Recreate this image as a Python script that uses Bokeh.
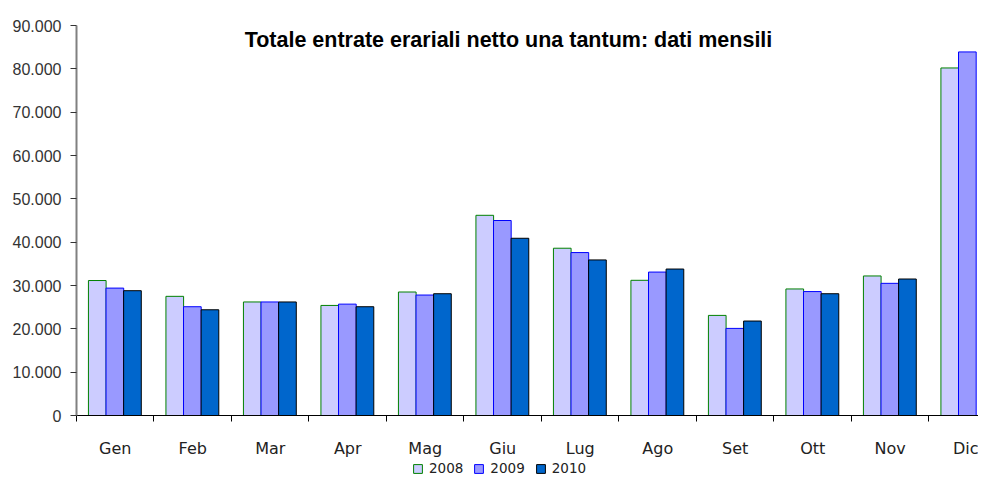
import numpy as np
from bokeh.plotting import figure
from bokeh.layouts import column
from bokeh.models import ColumnDataSource, Range1d, FixedTicker, Legend, LegendItem, Label
from bokeh.transform import dodge
from bokeh.embed import file_html
from bokeh.resources import INLINE

# ---- data ----
months = ["Gen", "Feb", "Mar", "Apr", "Mag", "Giu", "Lug", "Ago", "Set", "Ott", "Nov", "Dic"]
years = ["2008", "2009", "2010"]
v2008 = [31150, 27500, 26200, 25400, 28500, 46200, 38600, 31200, 23100, 29200, 32200, 80200]
v2009 = [29400, 25100, 26200, 25700, 27800, 45000, 37600, 33100, 20100, 28600, 30500, 83900]
v2010 = [28800, 24400, 26200, 25100, 28100, 40900, 35900, 33800, 21800, 28100, 31500, None]
y_ticks = [0, 10000, 20000, 30000, 40000, 50000, 60000, 70000, 80000, 90000]
title_text = "Totale entrate erariali netto una tantum: dati mensili"

centers = [i + 0.5 for i in range(len(months))]
boundaries = list(range(len(months) + 1))

def arr(v):
    return np.array([np.nan if x is None else x for x in v], dtype=float)

src = ColumnDataSource(dict(x=centers, m=months,
                            v2008=arr(v2008), v2009=arr(v2009), v2010=arr(v2010)))

p = figure(width=978, height=460, output_backend="svg", toolbar_location=None,
           x_range=Range1d(0, 11.639), y_range=Range1d(0, 90000),
           min_border_left=76, min_border_right=0, min_border_top=25, min_border_bottom=43)
p.outline_line_color = None
p.xgrid.visible = False
p.ygrid.visible = False
p.background_fill_color = "white"
p.border_fill_color = "white"

styles = [("v2008", -0.232, "#CCCCFF", "#008000"),
          ("v2009", -0.005, "#9999FF", "#0000FF"),
          ("v2010", 0.222, "#0066CC", "#000000")]
for col, off, fc, lc in styles:
    p.vbar(x=dodge("x", off, range=p.x_range), top=col, width=0.228, bottom=0,
           source=src, fill_color=fc, line_color=lc, line_width=1)

# x axis
xa = p.xaxis[0]
xa.ticker = FixedTicker(ticks=centers, minor_ticks=boundaries)
xa.major_label_overrides = {c: m for c, m in zip(centers, months)}
xa.major_tick_line_color = None
xa.major_tick_out = 6
xa.major_tick_in = 0
xa.minor_tick_line_color = "#000000"
xa.minor_tick_out = 6
xa.minor_tick_in = 0
xa.axis_line_color = "#000000"
xa.axis_line_width = 1
xa.major_label_text_font = "DejaVu Sans"
xa.major_label_text_font_size = "16px"
xa.major_label_text_color = "#222222"
xa.major_label_standoff = 17

# y axis
ya = p.yaxis[0]
ya.ticker = FixedTicker(ticks=y_ticks)
ya.major_label_overrides = {t: f"{t:,}".replace(",", ".") for t in y_ticks}
ya.axis_line_color = "#808080"
ya.axis_line_width = 2
ya.major_tick_line_color = "#333333"
ya.major_tick_out = 6
ya.major_tick_in = 0
ya.minor_tick_line_color = None
ya.major_label_text_font = "Liberation Sans"
ya.major_label_text_font_size = "16px"
ya.major_label_text_color = "#333333"
ya.major_label_standoff = 9

# title inside plot
p.add_layout(Label(x=5.574, y=86550, text=title_text, text_font="Liberation Sans",
                   text_font_style="bold", text_font_size="21.5px", text_color="#000000",
                   text_align="center", text_baseline="alphabetic"))

# ---- legend strip (its frame is aligned with the main frame by the column) ----
lg = figure(width=978, height=16, output_backend="svg", toolbar_location=None,
            x_range=Range1d(-1e6, -1e6 + 1), y_range=Range1d(-1e9, -1e9 + 1),
            x_axis_location=None, y_axis_location=None,
            min_border_left=76, min_border_right=0, min_border_top=0, min_border_bottom=0)
lg.outline_line_color = None
lg.xgrid.visible = False
lg.ygrid.visible = False
lg_rends = []
for col, off, fc, lc in styles:
    # same bars, far outside this strip's visible range: only their legend swatches show
    lg_rends.append(lg.vbar(x="x", top=col, bottom=0, width=0.1, source=src,
                            fill_color=fc, line_color=lc, line_width=1))

legend = Legend(items=[LegendItem(label=y, renderers=[r]) for y, r in zip(years, lg_rends)],
                orientation="horizontal", location=(336, 0),
                glyph_width=11, glyph_height=11, label_height=11,
                label_text_font="DejaVu Sans", label_text_font_size="13.5px",
                label_text_color="#222222", label_standoff=6, spacing=10,
                padding=0, margin=0, border_line_color=None, background_fill_alpha=0)
lg.add_layout(legend)

layout = column(p, lg, spacing=0)
open("out.html", "w").write(file_html(layout, INLINE))
